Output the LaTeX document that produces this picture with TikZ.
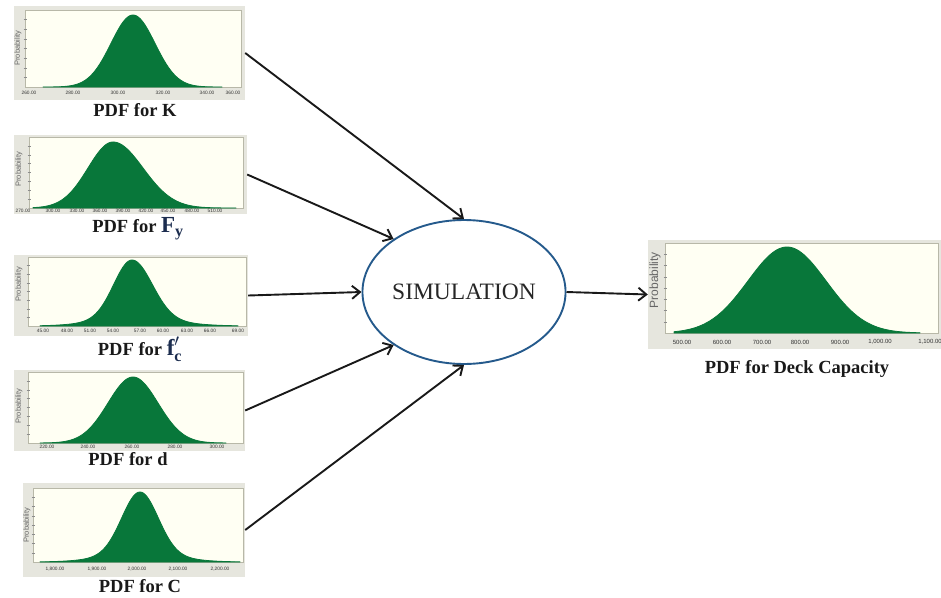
\documentclass[tikz,border=0pt]{standalone}
\usepackage{fontspec}
\setmainfont{Liberation Serif}
\newfontfamily\plotfont{Liberation Sans}
\usetikzlibrary{shapes.geometric,arrows.meta,fit}
\definecolor{pdfgreen}{HTML}{08773A}
\definecolor{framegray}{HTML}{E6E6DE}
\definecolor{areacream}{HTML}{FFFFF3}
\definecolor{areaedge}{HTML}{B8B8A8}
\definecolor{simblue}{HTML}{255A8C}
\definecolor{symcol}{HTML}{1C2D4F}
\tikzset{
  pframe/.style={fill=framegray, draw=none, inner sep=0pt},
  parea/.style={fill=areacream, draw=areaedge, line width=0.5pt},
  ticklab/.style={font=\plotfont\fontsize{4.8}{5}\selectfont, text=black!80, inner sep=0pt},
  bigticklab/.style={font=\plotfont\fontsize{6}{6}\selectfont, text=black!80, inner sep=0pt},
  prob/.style={font=\plotfont\fontsize{7.5}{8}\selectfont, text=black!60, rotate=90, inner sep=0pt},
  caption/.style={font=\fontsize{18.5}{20}\selectfont\bfseries, text=black!90, inner sep=0pt},
  arr/.style={line width=1.9pt, draw=black!90, -{Straight Barb[length=8pt,width=13pt,line width=1.9pt]}},
  simnode/.style={ellipse, draw=simblue, line width=1.9pt, minimum width=198pt, minimum height=144pt, inner sep=0pt, font=\fontsize{23.5}{24}\selectfont, text=black!85},
  declare function={
    sg(\t,\m,\a,\b)=\a+(\b-\a)*(\t>\m);
    pz(\t,\m,\a,\b)=(\t-\m)/sg(\t,\m,\a,\b);
    bell(\t,\m,\a,\b,\w)=(1-\w)*exp(-0.5*pz(\t,\m,\a,\b)*pz(\t,\m,\a,\b))+\w*exp(-0.125*pz(\t,\m,\a,\b)*pz(\t,\m,\a,\b));
  }
}
% frame node
\newcommand\pdfframe[5]{\node[pframe, fit={(#2,#3) (#4,#5)}] (#1) {};}
% plot area
\newcommand\pdfarea[4]{\draw[parea] (#1,#2) rectangle (#3,#4);}
% curve: xa, xb, base, peak, mu, sL, sR, tail
\newcommand\pdfcurve[8]{\filldraw[pdfgreen, line width=0.8pt, line join=round] (#1,#3) -- plot[domain=#1:#2, samples=160, smooth] (\x,{#3-(#3-#4)*bell(\x,#5,#6,#7,#8)}) -- (#2,#3) -- cycle;}
% left axis ticks: x, y0, y1, count
\newcommand\pdfyticks[4]{\foreach \k in {1,...,#4} \draw[black!45, line width=0.4pt] (#1-1.5,{#2+(#3-#2)*\k/(#4+1)}) -- (#1+1.5,{#2+(#3-#2)*\k/(#4+1)});}

\begin{document}
\begin{tikzpicture}[x=1pt,y=-1pt]
\useasboundingbox (0,0) rectangle (941,597);

% ---------- PDF for K ----------
\pdfframe{K}{14}{6}{245}{100}
\pdfarea{25}{10}{241}{87}
\pdfyticks{25}{10}{87}{7}
\pdfcurve{43}{222}{87}{15}{133}{22}{22}{0}
\foreach \tx/\tl in {29/260.00,73/280.00,118/300.00,163/320.00,207/340.00,233/360.00}
  \node[ticklab] at (\tx,93) {\tl};
\node[prob] at (18,48) {Probability};
\node[caption] (capK) at (135,110) {PDF for K};

% ---------- PDF for Fy ----------
\pdfframe{Fy}{14}{135}{247}{214}
\pdfarea{29}{137}{243}{208}
\pdfyticks{29}{137}{208}{7}
\pdfcurve{33}{236}{208}{142}{113}{25}{30}{0}
\foreach \tx/\tl in {23/270.00,53/300.00,77/330.00,100/360.00,123/390.00,146/420.00,168/450.00,192/480.00,215/510.00}
  \node[ticklab] at (\tx,211) {\tl};
\node[prob] at (19,169) {Probability};
\node[caption] (capFy) at (138,229) {PDF for {\color{symcol}\fontsize{23}{23}\selectfont$\mathbf{F}_{\mathbf{y}}$}};

% ---------- PDF for fc' ----------
\pdfframe{fc}{14}{255}{248}{336}
\pdfarea{28}{257}{246}{326}
\pdfyticks{28}{257}{326}{7}
\pdfcurve{40}{238}{326}{260}{132}{18}{20}{0.12}
\foreach \tx/\tl in {43/45.00,67/48.00,90/51.00,113/54.00,140/57.00,163/60.00,187/63.00,210/66.00,238/69.00}
  \node[ticklab] at (\tx,331) {\tl};
\node[prob] at (19,284) {Probability};
\node[caption] (capfc) at (140,349) {PDF for {\color{symcol}\fontsize{23}{23}\selectfont$\mathbf{f}'_{\mathbf{c}}$}};

% ---------- PDF for d ----------
\pdfframe{d}{14}{370}{245}{451}
\pdfarea{28}{372}{243}{443}
\pdfyticks{28}{372}{443}{7}
\pdfcurve{40}{226}{443}{377}{133}{25}{25}{0}
\foreach \tx/\tl in {47/220.00,88/240.00,132/260.00,175/280.00,217/300.00}
  \node[ticklab] at (\tx,447) {\tl};
\node[prob] at (19,406) {Probability};
\node[caption] (capd) at (128,459) {PDF for d};

% ---------- PDF for C ----------
\pdfframe{C}{23}{483}{245}{577}
\pdfarea{33}{488}{243}{562}
\pdfyticks{33}{488}{562}{7}
\pdfcurve{40}{240}{562}{492}{140}{18}{18}{0.12}
\foreach \tx/\tl in {55/{1,800.00},97/{1,900.00},137/{2,000.00},178/{2,100.00},220/{2,200.00}}
  \node[ticklab] at (\tx,569) {\tl};
\node[prob] at (27,525) {Probability};
\node[caption] (capC) at (140,586) {PDF for C};

% ---------- PDF for Deck Capacity ----------
\pdfframe{deck}{648}{240}{941}{349}
\pdfarea{665}{243}{938}{333}
\pdfyticks{665}{243}{333}{7}
\pdfcurve{674}{920}{333}{247}{787}{39}{39}{0}
\foreach \tx/\tl in {682/500.00,722/600.00,762/700.00,800/800.00,840/900.00,880/{1,000.00},930/{1,100.00}}
  \node[bigticklab] at (\tx,342) {\tl};
\node[prob, font=\plotfont\fontsize{12}{12}\selectfont] at (655,280) {Probability};
\node[caption] (capdeck) at (797,369) {PDF for Deck Capacity};

% ---------- simulation ----------
\node[simnode] (sim) at (464,292) {SIMULATION};

% ---------- connectors ----------
\draw[arr] (K.east) -- (sim.north);
\draw[arr] (Fy.east) -- (sim.143);
\draw[arr] (fc.east) -- (sim.west);
\draw[arr] (d.east) -- (sim.217);
\draw[arr] (C.east) -- (sim.south);
\draw[arr] (sim.east) -- (deck.west);
\end{tikzpicture}
\end{document}
